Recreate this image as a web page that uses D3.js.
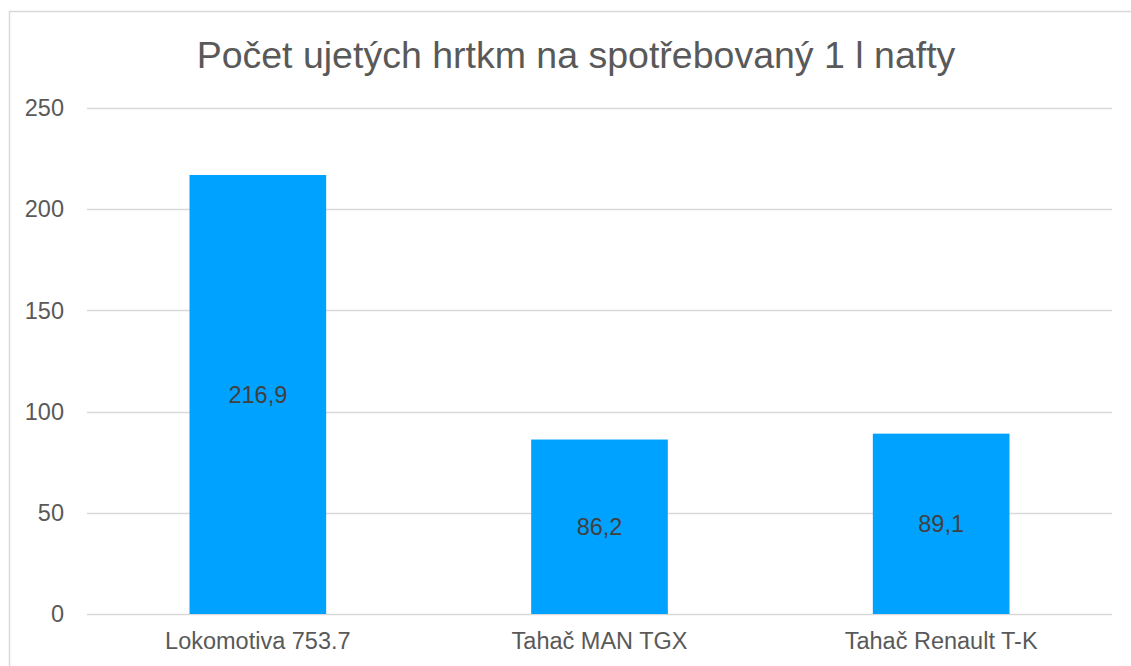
<!DOCTYPE html>
<html>
<head>
<meta charset="utf-8">
<script src="https://d3js.org/d3.v7.min.js"></script>
<style>
  body { margin: 0; background: #fff; }
  text { font-family: "Liberation Sans", Arial, sans-serif; }
</style>
</head>
<body>
<div id="viz"></div>
<script>
var categories = ["Lokomotiva 753.7", "Tahač MAN TGX", "Tahač Renault T-K"];
var values = [216.9, 86.2, 89.1];
var labels = ["216,9", "86,2", "89,1"];
var yTicks = [0, 50, 100, 150, 200, 250];
var title = "Počet ujetých hrtkm na spotřebovaný 1 l nafty";

var width = 1131, height = 666;
var margin = {top: 108, right: 19, bottom: 52, left: 87};

var svg = d3.select("#viz").append("svg")
  .attr("width", width)
  .attr("height", height);

// chart frame
svg.append("rect")
  .attr("x", 9.5).attr("y", 11.5)
  .attr("width", 1140).attr("height", 700)
  .attr("fill", "#fff")
  .attr("stroke", "#d9d9d9")
  .attr("stroke-width", 1.5);

var x = d3.scaleBand()
  .domain(categories)
  .range([margin.left, width - margin.right])
  .paddingInner(0.6)
  .paddingOuter(0.3);

var y = d3.scaleLinear()
  .domain([0, 250])
  .range([height - margin.bottom, margin.top]);

// gridlines
svg.append("g").selectAll("line")
  .data(yTicks)
  .enter().append("line")
  .attr("x1", margin.left)
  .attr("x2", width - margin.right)
  .attr("y1", function(d) { return Math.round(y(d)) + 0.5; })
  .attr("y2", function(d) { return Math.round(y(d)) + 0.5; })
  .attr("stroke", "#d9d9d9")
  .attr("stroke-width", 1.5);

// y labels
svg.append("g").selectAll("text")
  .data(yTicks)
  .enter().append("text")
  .attr("x", 64)
  .attr("y", function(d) { return y(d); })
  .attr("dy", "0.35em")
  .attr("text-anchor", "end")
  .attr("fill", "#595959")
  .style("font-size", "23.5px")
  .text(function(d) { return d; });

// bars
svg.append("g").selectAll("rect")
  .data(values)
  .enter().append("rect")
  .attr("x", function(d, i) { return x(categories[i]); })
  .attr("width", x.bandwidth())
  .attr("y", function(d) { return y(d); })
  .attr("height", function(d) { return y(0) - y(d); })
  .attr("fill", "#00a2ff");

// value labels
svg.append("g").selectAll("text")
  .data(values)
  .enter().append("text")
  .attr("x", function(d, i) { return x(categories[i]) + x.bandwidth() / 2; })
  .attr("y", function(d) { return (y(d) + y(0)) / 2; })
  .attr("dy", "0.35em")
  .attr("text-anchor", "middle")
  .attr("fill", "#404040")
  .style("font-size", "23.5px")
  .text(function(d, i) { return labels[i]; });

// category labels
svg.append("g").selectAll("text")
  .data(categories)
  .enter().append("text")
  .attr("x", function(d) { return x(d) + x.bandwidth() / 2; })
  .attr("y", 649)
  .attr("text-anchor", "middle")
  .attr("fill", "#595959")
  .style("font-size", "23.5px")
  .text(function(d) { return d; });

// title
svg.append("text")
  .attr("x", 576)
  .attr("y", 68)
  .attr("text-anchor", "middle")
  .attr("fill", "#595959")
  .style("font-size", "37.5px")
  .text(title);
</script>
</body>
</html>
